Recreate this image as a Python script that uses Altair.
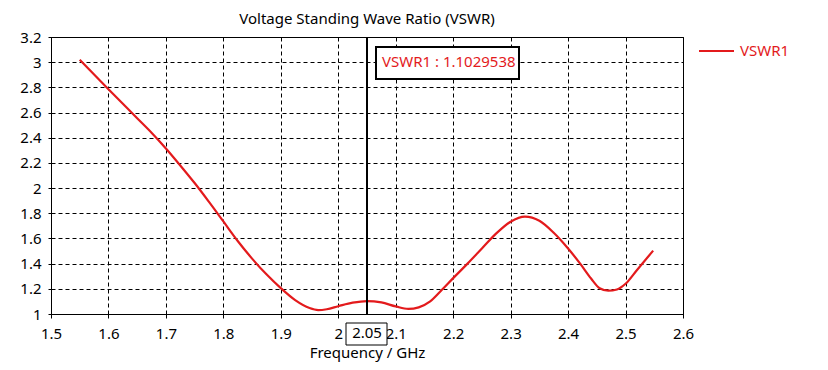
import altair as alt
import pandas as pd

# ---------------- data ----------------
series_name = "VSWR1"
freq = [1.55, 1.60, 1.65, 1.675, 1.70, 1.725, 1.75, 1.775, 1.80, 1.825, 1.85, 1.875,
        1.90, 1.925, 1.95, 1.965, 1.98,
        2.00, 2.025, 2.05, 2.075, 2.10, 2.122, 2.14, 2.16, 2.18, 2.20, 2.225, 2.25,
        2.275, 2.30, 2.325, 2.35, 2.375, 2.40, 2.421, 2.44, 2.455, 2.47, 2.485, 2.50,
        2.52, 2.548]
vswr = [3.02, 2.785, 2.555, 2.44, 2.315, 2.18, 2.04, 1.89, 1.735, 1.58, 1.44, 1.315,
        1.205, 1.11, 1.047, 1.031, 1.038,
        1.062, 1.09, 1.103, 1.092, 1.06, 1.04, 1.053, 1.10, 1.19, 1.285, 1.40, 1.52,
        1.64, 1.733, 1.773, 1.74, 1.645, 1.52, 1.40, 1.282, 1.205, 1.185, 1.195, 1.24,
        1.35, 1.503]

marker_freq = [2.05]
marker_freq_label = ["2.05"]
marker_value_label = ["VSWR1 : 1.1029538"]

x_ticks = [1.5, 1.6, 1.7, 1.8, 1.9, 2.0, 2.1, 2.2, 2.3, 2.4, 2.5, 2.6]
y_ticks = [1, 1.2, 1.4, 1.6, 1.8, 2, 2.2, 2.4, 2.6, 2.8, 3, 3.2]
x_domain = [1.5, 2.6]
y_domain = [1, 3.2]

chart_title = "Voltage Standing Wave Ratio (VSWR)"
x_title = "Frequency / GHz"

# ---------------- style ----------------
RED = "#e31a1c"
FONT = "Noto Sans"
FS = 15
W, H = 632, 277

df = pd.DataFrame({"freq": freq, "vswr": vswr, "series": series_name})
mk = pd.DataFrame({"freq": marker_freq, "flab": marker_freq_label,
                   "vlab": marker_value_label})
lg = pd.DataFrame({"series": [series_name]})

xs = alt.Scale(domain=x_domain, nice=False, zero=False)
ys = alt.Scale(domain=y_domain, nice=False, zero=False)

x_axis = alt.Axis(values=x_ticks, format="~g", title=x_title, grid=True,
                  labelPadding=8, titlePadding=4, tickSize=4)
y_axis = alt.Axis(values=y_ticks, format="~g", title=None, grid=True,
                  labelPadding=7, tickSize=3)

X = alt.X("freq:Q", scale=xs, axis=x_axis, title=x_title)

line = alt.Chart(df).mark_line(color=RED, strokeWidth=2.2, interpolate="monotone").encode(
    x=X,
    y=alt.Y("vswr:Q", scale=ys, axis=y_axis),
)

rule = alt.Chart(mk).mark_rule(color="black", strokeWidth=2).encode(x=X)

# marker value box (top)
vbox = alt.Chart(mk).mark_rect(fill="white", stroke="black", strokeWidth=2,
                               xOffset=9, x2Offset=152).encode(
    x=X, x2="freq:Q",
    y=alt.value(10), y2=alt.value(42),
)
vtext = alt.Chart(mk).mark_text(color=RED, font=FONT, fontSize=FS, align="left",
                                baseline="middle", dx=15).encode(
    x=X, y=alt.value(25), text="vlab:N",
)

# marker frequency box (bottom, on the axis labels)
fbox = alt.Chart(mk).mark_rect(fill="white", stroke="black", strokeWidth=1,
                               xOffset=-21, x2Offset=20).encode(
    x=X, x2="freq:Q",
    y=alt.value(H + 9), y2=alt.value(H + 31),
)
ftext = alt.Chart(mk).mark_text(color="black", font=FONT, fontSize=FS, align="center",
                                baseline="middle").encode(
    x=X, y=alt.value(H + 19), text="flab:N",
)

# title
title = alt.Chart(lg).mark_text(color="black", font=FONT, fontSize=FS, align="center",
                                baseline="alphabetic").encode(
    x=alt.value(W / 2), y=alt.value(-13), text=alt.value(chart_title),
)

# legend
leg_line = alt.Chart(lg).mark_rule(color=RED, strokeWidth=2.2).encode(
    x=alt.value(648), x2=alt.value(683), y=alt.value(14),
)
leg_text = alt.Chart(lg).mark_text(color=RED, font=FONT, fontSize=FS, align="left",
                                   baseline="middle").encode(
    x=alt.value(689), y=alt.value(14), text="series:N",
)

chart = alt.layer(line, rule, vbox, vtext, fbox, ftext, title, leg_line, leg_text).properties(
    width=W, height=H,
    autosize=alt.AutoSizeParams(type="none"),
    padding={"left": 43, "top": 29, "right": 137, "bottom": 48},
    background="white",
).configure_view(
    stroke="black", strokeWidth=1,
).configure_axis(
    labelFont=FONT, labelFontSize=FS, labelColor="black",
    titleFont=FONT, titleFontSize=FS, titleColor="black", titleFontWeight="normal",
    domainColor="black", domainWidth=1, tickColor="black", tickWidth=1,
    gridColor="black", gridOpacity=1, gridWidth=1, gridDash=[4, 3],
    labelFlush=False, labelOverlap=False,
)

chart.save("out.html", embed_options={"renderer": "svg", "actions": False})
